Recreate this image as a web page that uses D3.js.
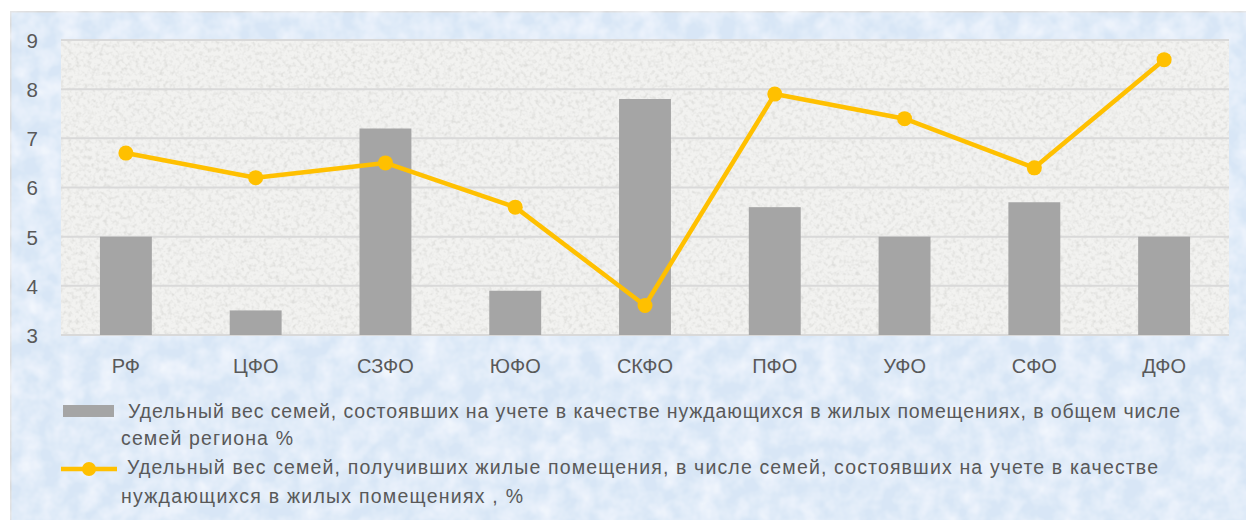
<!DOCTYPE html>
<html>
<head>
<meta charset="utf-8">
<script src="https://cdn.jsdelivr.net/npm/d3@7"></script>
<style>
  body { margin: 0; background: #fff; }
  text { font-family: 'Liberation Sans', Arial, sans-serif; fill: #595959; }
</style>
</head>
<body>
<div id="container"></div>
<script>
const w = 1246
const h = 520

// Data
const regions = ['РФ', 'ЦФО', 'СЗФО', 'ЮФО', 'СКФО', 'ПФО', 'УФО', 'СФО', 'ДФО']
const onRegister = [5.0, 3.5, 7.2, 3.9, 7.8, 5.6, 5.0, 5.7, 5.0]
const gotHousing = [6.7, 6.2, 6.5, 5.6, 3.6, 7.9, 7.4, 6.4, 8.6]
const yTicks = [3, 4, 5, 6, 7, 8, 9]
const legendBar = ['Удельный вес семей, состоявших на учете в качестве нуждающихся в жилых помещениях, в общем числе',
                   'семей региона %']
const legendLine = ['Удельный вес семей, получивших жилые помещения, в числе семей, состоявших на учете в качестве',
                    'нуждающихся в жилых помещениях , %']

const plot = { left: 61, right: 1229, top: 40, bottom: 335 }

const svg = d3.select('#container')
              .append('svg')
              .attr('width', w)
              .attr('height', h)

// texture filters
const defs = svg.append('defs')
const blueTex = defs.append('filter').attr('id', 'blueTex').attr('x', 0).attr('y', 0).attr('width', 1).attr('height', 1)
blueTex.append('feTurbulence').attr('type', 'fractalNoise').attr('baseFrequency', 0.05).attr('numOctaves', 3).attr('seed', 4).attr('result', 'n')
blueTex.append('feColorMatrix').attr('in', 'n').attr('type', 'matrix')
       .attr('values', '0 0 0 0 0.94  0 0 0 0 0.96  0 0 0 0 1  1.3 0 0 0 -0.4')
       .attr('result', 'c')
blueTex.append('feMerge').call(m => { m.append('feMergeNode').attr('in', 'SourceGraphic'); m.append('feMergeNode').attr('in', 'c') })

const greyTex = defs.append('filter').attr('id', 'greyTex').attr('x', 0).attr('y', 0).attr('width', 1).attr('height', 1)
greyTex.append('feTurbulence').attr('type', 'fractalNoise').attr('baseFrequency', 0.25).attr('numOctaves', 2).attr('seed', 7).attr('result', 'n')
greyTex.append('feColorMatrix').attr('in', 'n').attr('type', 'matrix')
       .attr('values', '0 0 0 0 0.74  0 0 0 0 0.74  0 0 0 0 0.72  2.6 0 0 0 -1.15')
       .attr('result', 'c')
greyTex.append('feMerge').call(m => { m.append('feMergeNode').attr('in', 'SourceGraphic'); m.append('feMergeNode').attr('in', 'c') })

// outer frame
svg.append('rect')
   .attr('x', 10.5).attr('y', 11.5)
   .attr('width', w).attr('height', h)
   .attr('fill', '#d8e6f6')
   .attr('stroke', '#d9d9d9')
   .attr('stroke-width', 2)
   .attr('filter', 'url(#blueTex)')

// plot background
svg.append('rect')
   .attr('x', plot.left).attr('y', plot.top)
   .attr('width', plot.right - plot.left).attr('height', plot.bottom - plot.top)
   .attr('fill', '#f2f2f0')
   .attr('filter', 'url(#greyTex)')

// Scales
const xScale = d3.scaleBand()
                 .domain(regions)
                 .range([plot.left, plot.right])
                 .paddingInner(0.6)
                 .paddingOuter(0.3)
const yScale = d3.scaleLinear()
                 .domain([3, 9])
                 .range([plot.bottom, plot.top])

// Gridlines
svg.append('g')
   .selectAll('line')
   .data(yTicks)
   .enter()
   .append('line')
   .attr('x1', plot.left).attr('x2', plot.right)
   .attr('y1', d => yScale(d)).attr('y2', d => yScale(d))
   .attr('stroke', '#d9d9d9')
   .attr('stroke-width', 2)

// Axes
const yAxis = d3.axisLeft(yScale).tickValues(yTicks).tickFormat(d3.format('d')).tickSize(0).tickPadding(23)
svg.append('g')
   .attr('transform', 'translate(' + plot.left + ', 0)')
   .call(yAxis)
   .call(g => g.select('.domain').remove())
   .call(g => g.selectAll('text').attr('font-size', 20.5).attr('dy', '0.36em').attr('fill', '#595959').attr('font-family', null))

const xAxis = d3.axisBottom(xScale).tickSize(0).tickPadding(24)
svg.append('g')
   .attr('transform', 'translate(0, ' + plot.bottom + ')')
   .call(xAxis)
   .call(g => g.select('.domain').remove())
   .call(g => g.selectAll('text').attr('font-size', 20).attr('fill', '#595959').attr('font-family', null))

// Bars
svg.append('g')
   .selectAll('rect')
   .data(regions)
   .enter()
   .append('rect')
   .attr('x', d => xScale(d))
   .attr('width', xScale.bandwidth())
   .attr('y', (d, i) => yScale(onRegister[i]))
   .attr('height', (d, i) => yScale(3) - yScale(onRegister[i]))
   .attr('fill', '#a5a5a5')

// Line
const cx = d => xScale(d) + xScale.bandwidth() / 2
const line = d3.line()
               .x(d => cx(d))
               .y((d, i) => yScale(gotHousing[i]))
svg.append('path')
   .datum(regions)
   .attr('d', line)
   .attr('fill', 'none')
   .attr('stroke', '#ffc000')
   .attr('stroke-width', 4.5)
   .attr('stroke-linejoin', 'round')
svg.append('g')
   .selectAll('circle')
   .data(regions)
   .enter()
   .append('circle')
   .attr('cx', d => cx(d))
   .attr('cy', (d, i) => yScale(gotHousing[i]))
   .attr('r', 7.5)
   .attr('fill', '#ffc000')

// Legend
const legend = svg.append('g')
legend.append('rect')
      .attr('x', 63).attr('y', 405)
      .attr('width', 51).attr('height', 12)
      .attr('fill', '#a5a5a5')
legend.append('line')
      .attr('x1', 61).attr('x2', 117)
      .attr('y1', 469).attr('y2', 469)
      .attr('stroke', '#ffc000')
      .attr('stroke-width', 4.5)
legend.append('circle')
      .attr('cx', 89).attr('cy', 469).attr('r', 7)
      .attr('fill', '#ffc000')

const legendLines = legendBar.concat(legendLine)
const legendY = [418, 445, 474, 503]
const legendX = [128, 121, 127, 121]
const legendW = [1052, 172, 1031, 402]
legend.selectAll('text.leg')
      .data(legendLines)
      .enter()
      .append('text')
      .attr('class', 'leg')
      .attr('x', (d, i) => legendX[i])
      .attr('y', (d, i) => legendY[i])
      .attr('font-size', 19.5)
      .attr('textLength', (d, i) => legendW[i])
      .attr('lengthAdjust', 'spacing')
      .text(d => d)
</script>
</body>
</html>
